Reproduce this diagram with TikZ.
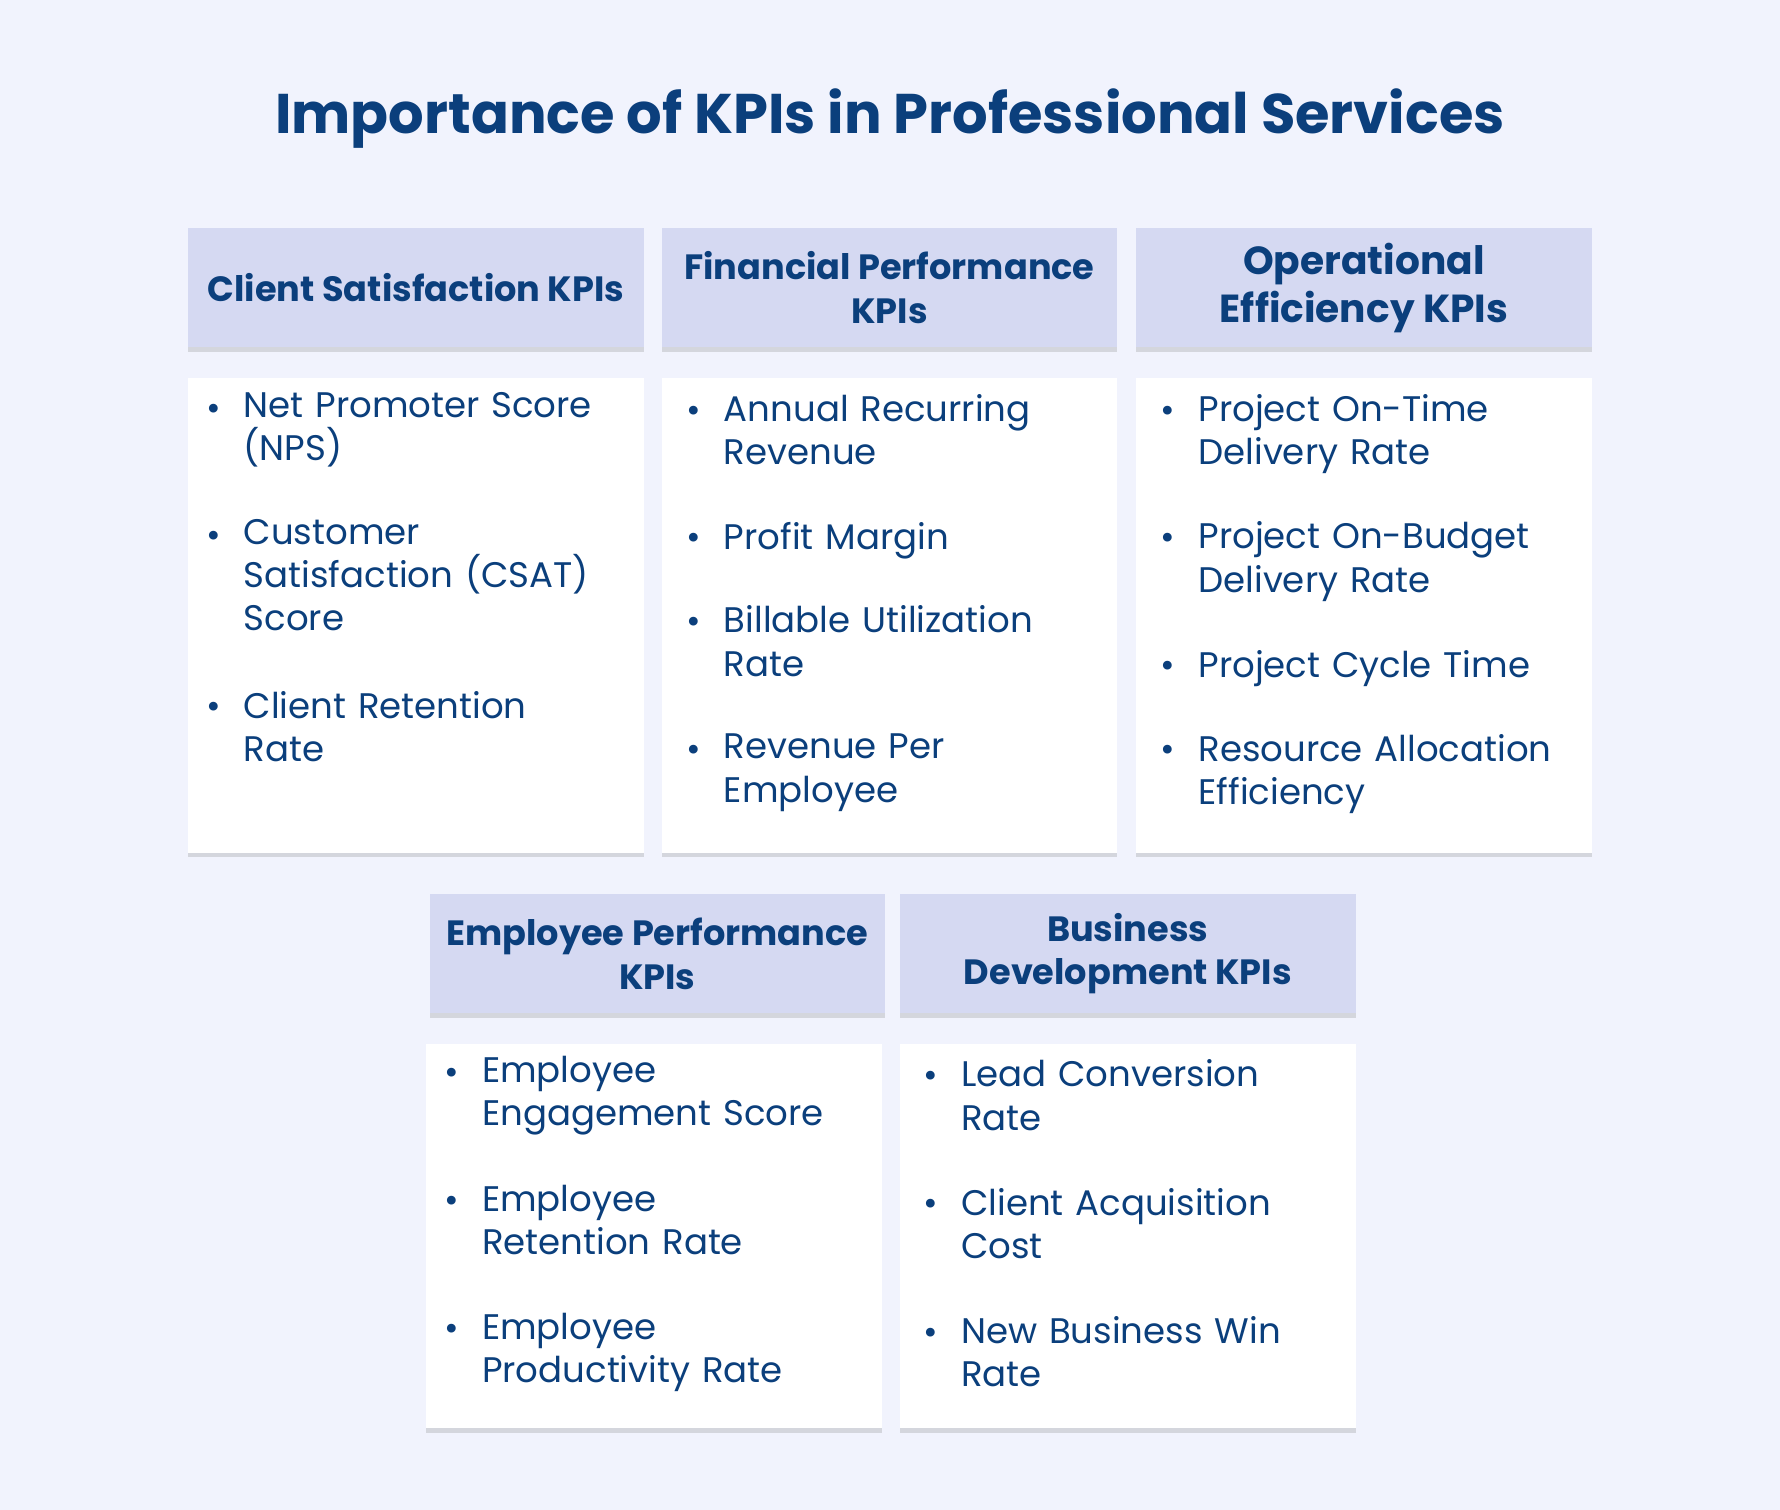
\documentclass[tikz,border=0pt]{standalone}
\usepackage{fontspec}
\setmainfont{Poppins}
\usetikzlibrary{positioning, shadows}
\definecolor{kpiBlue}{HTML}{0B3F7C}
\definecolor{kpiHead}{HTML}{D5D9F2}
\definecolor{kpiBack}{HTML}{F1F3FD}

\begin{document}
\begin{tikzpicture}[x=0.01cm, y=-0.01cm,
  head/.style={rectangle, fill=kpiHead, minimum width=4.01cm, minimum height=1.05cm,
    align=center, text=kpiBlue, font=\fontsize{8.8}{11}\selectfont\bfseries, inner sep=1pt,
    drop shadow={shadow xshift=0pt, shadow yshift=-1.2pt, opacity=0.25}},
  %
  card/.style={rectangle, fill=white, minimum width=4.01cm, inner sep=0pt,
    drop shadow={shadow xshift=0pt, shadow yshift=-1.2pt, opacity=0.25}},
  %
  item/.style={anchor=north west, inner sep=0pt, align=left, text width=3.5cm,
    text=kpiBlue, font=\fontsize{8.9}{10.8}\selectfont},
  %
  bul/.style={anchor=north, inner sep=0pt, text=kpiBlue, font=\fontsize{8.9}{10.8}\selectfont}
  ]

  \fill[kpiBack] (0,0) rectangle (1568,1330);
  \useasboundingbox (0,0) rectangle (1568,1330);

  \node[text=kpiBlue, font=\fontsize{14}{16}\selectfont\bfseries] (title) at (784,104)
    {Importance of KPIs in Professional Services};

  %%%%%%%%%%%%%%%%%%%%%%%%%%%%%%% first row
  \node[head] (hClient) at (366.5,253.5) {Client Satisfaction KPIs};
  \node[head] (hFin) at (783.5,253.5) {Financial Performance\\KPIs};
  \node[head, font=\fontsize{9.8}{12}\selectfont\bfseries] (hOps) at (1201.5,253.5) {Operational\\Efficiency KPIs};
  \node[card, minimum height=4.18cm] (cClient) at (366.5,542) {};
  \node[card, minimum height=4.18cm] (cFin) at (783.5,542) {};
  \node[card, minimum height=4.18cm] (cOps) at (1201.5,542) {};

  %%%%%%%%%%%%%%%%%%%%%%%%%%%%%%% second row
  \node[head] (hEmp) at (579,840) {Employee Performance\\KPIs};
  \node[head] (hBiz) at (993.5,840) {Business\\Development KPIs};
  \node[card, minimum height=3.38cm] (cEmp) at (576,1089) {};
  \node[card, minimum height=3.38cm] (cBiz) at (993.5,1089) {};

  %%%%%%%%%%%%%%%%%%%%%%%%%%%%%%% items
  \foreach \x/\y/\t [count=\i] in {
      214/345/{Net Promoter Score\\(NPS)},
      214/457/{Customer\\Satisfaction (CSAT)\\Score},
      214/608/{Client Retention\\Rate},
      637/347/{Annual Recurring\\Revenue},
      637/459/{Profit Margin},
      637/533/{Billable Utilization\\Rate},
      637/646/{Revenue Per\\Employee},
      1055/347/{Project On-Time\\Delivery Rate},
      1055/459/{Project On-Budget\\Delivery Rate},
      1055/572/{Project Cycle Time},
      1055/646/{Resource Allocation\\Efficiency},
      424/930/{Employee\\Engagement Score},
      424/1043/{Employee\\Retention Rate},
      424/1156/{Employee\\Productivity Rate},
      846/933/{Lead Conversion\\Rate},
      846/1046/{Client Acquisition\\Cost},
      846/1159/{New Business Win\\Rate}} {
    \node[item] (kpi\i) at (\x,\y) {\t};
    \node[bul] (dot\i) at ([xshift=-0.26cm, yshift=-0.1cm]kpi\i.north west) {•};
  }

\end{tikzpicture}
\end{document}
